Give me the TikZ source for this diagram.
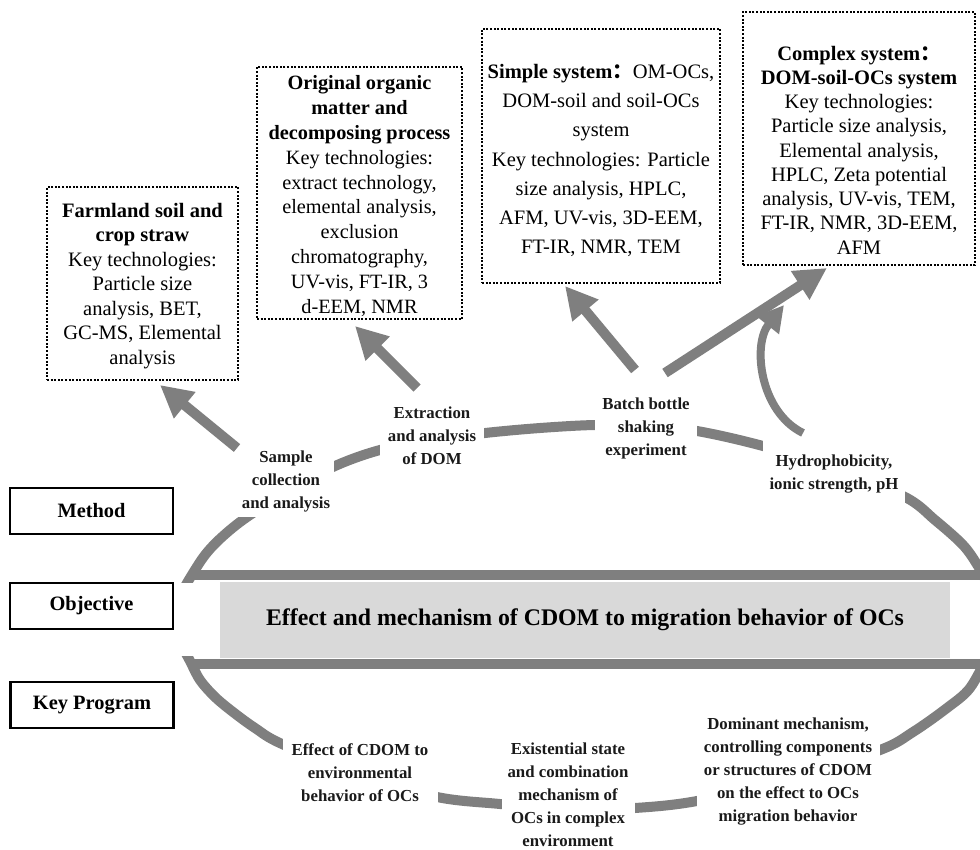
\documentclass[tikz,border=0pt]{standalone}
\usepackage{fontspec}
\setmainfont{Liberation Serif}
\newfontfamily\cjkfont{Noto Sans CJK SC}
\usetikzlibrary{arrows.meta,calc}
\definecolor{arcgray}{HTML}{7F7F7F}
\definecolor{rectgray}{HTML}{D9D9D9}
\definecolor{labtext}{HTML}{1A1A1A}
\begin{document}
\begin{tikzpicture}[x=1pt,y=-1pt,
  band/.style={draw=arcgray, line width=10pt},
  lab/.style={fill=white, align=center, font=\fontsize{16.8}{23}\selectfont\bfseries, text=labtext, inner sep=0pt},
  rowbox/.style={draw=black, line width=2.5pt, minimum width=163pt, minimum height=46pt, inner sep=0pt, font=\fontsize{20.4}{24}\selectfont\bfseries},
  dotbox/.style={draw=black, line width=2pt, dash pattern=on 2pt off 1.6pt, inner sep=0pt},
  boxtext/.style={align=center, inner sep=0pt},
  bigarrow/.style={draw=arcgray, line width=10pt, -{Triangle[length=32pt,width=32pt]}},
  curvarrow/.style={draw=arcgray, line width=8pt, -{Triangle[length=26pt,width=27pt]}}
]
\useasboundingbox (0,0) rectangle (980,849);

% upper band: arc clipped at its foot, plus bar
\begin{scope}
  \clip (0,0) rectangle (1000,582);
  \draw[band] plot[smooth, tension=0.55] coordinates {(181,594) (190,578) (205,555) (222,537) (247,517) (290,490) (335,466) (380,450) (432,440) (485,433) (540,428) (595,425) (646,426) (697,431) (763,446) (834,468) (905,497) (935,520) (963,545) (978,566) (988,585)};
\end{scope}
\draw[band] (192,575) -- (995,575);

% lower band: arc clipped at its head, plus bar
\begin{scope}
  \clip (0,656) rectangle (1000,860);
  \draw[band] plot[smooth, tension=0.55] coordinates {(182,646) (190,661) (200,680) (215,697) (233,712) (255,728) (282,744) (360,775) (437,797) (500,804) (568,810) (635,808) (697,801) (788,780) (880,750) (913,732) (947,708) (970,688) (988,655)};
\end{scope}
\draw[band] (192,664) -- (995,664);

% objective bar
\node[fill=rectgray, minimum width=730pt, minimum height=76pt, inner sep=0pt,
  font=\fontsize{23.8}{28}\selectfont\bfseries] (goal) at (585,620)
  {Effect and mechanism of CDOM to migration behavior of OCs};

% row labels
\node[rowbox] (method) at (91.5,511) {Method};
\node[rowbox] (objective) at (91.5,606) {Objective};
\node[rowbox] (keyprog) at (92,705) {Key Program};

% labels on bands
\node[lab, minimum width=96pt, minimum height=72pt] (sample) at (286,481) {Sample\\collection\\and analysis};
\node[lab, minimum width=104pt, minimum height=70pt] (extract) at (432,436) {Extraction\\and analysis\\of DOM};
\node[lab, minimum width=102pt, minimum height=70pt] (batch) at (646,428) {Batch bottle\\shaking\\experiment};
\node[lab, minimum width=142pt, minimum height=76pt] (hydro) at (834,474) {Hydrophobicity,\\ionic strength, pH};
\node[lab, minimum width=155pt, minimum height=76pt] (effect) at (360,773) {Effect of CDOM to\\environmental\\behavior of OCs};
\node[lab, minimum width=133pt, minimum height=118pt] (exist) at (568,795) {Existential state\\and combination\\mechanism of\\OCs in complex\\environment};
\node[lab, minimum width=183pt, minimum height=120pt] (domin) at (788,772) {Dominant mechanism,\\controlling components\\or structures of CDOM\\on the effect to OCs\\migration behavior};

% dotted boxes
\node[dotbox, minimum width=191pt, minimum height=193pt] (b1) at (142.5,283.5) {};
\node[boxtext, font=\fontsize{20.5}{24.5}\selectfont] (b1t) at (142.5,286) {{\bfseries Farmland soil and}\\{\bfseries crop straw}\\Key technologies:\\Particle size\\analysis, BET,\\GC-MS, Elemental\\analysis};

\node[dotbox, minimum width=205pt, minimum height=252pt] (b2) at (359.5,193) {};
\node[boxtext, font=\fontsize{20.3}{24.9}\selectfont] (b2t) at (359.5,196) {{\bfseries Original organic}\\{\bfseries matter and}\\{\bfseries decomposing process}\\Key technologies:\\extract technology,\\elemental analysis,\\exclusion\\chromatography,\\UV-vis, FT-IR, 3\\d-EEM, NMR};

\node[dotbox, minimum width=238pt, minimum height=254pt] (b3) at (601,156) {};
\node[boxtext, font=\fontsize{20.5}{29.2}\selectfont] (b3t) at (601,160.5) {{\bfseries Simple system{\cjkfont ：}}OM-OCs,\\DOM-soil and soil-OCs\\system\\Key technologies: Particle\\size analysis, HPLC,\\AFM, UV-vis, 3D-EEM,\\FT-IR, NMR, TEM};

\node[dotbox, minimum width=232pt, minimum height=253pt] (b4) at (859,138.5) {};
\node[boxtext, font=\fontsize{20.5}{24.25}\selectfont] (b4t) at (859,150) {{\bfseries Complex system{\cjkfont ：}}\\{\bfseries DOM-soil-OCs system}\\Key technologies:\\Particle size analysis,\\Elemental analysis,\\HPLC, Zeta potential\\analysis, UV-vis, TEM,\\FT-IR, NMR, 3D-EEM,\\AFM};

% arrows
\coordinate (a1s) at (237,448); \coordinate (a1e) at (160,385);
\coordinate (a2s) at (417,388); \coordinate (a2e) at (355,326);
\coordinate (a3s) at (635,370); \coordinate (a3e) at (565,286);
\coordinate (a4s) at (665,373); \coordinate (a4e) at (827,268);
\coordinate (a5s) at (803,433); \coordinate (a5e) at (784,305);
\draw[bigarrow] (a1s) -- (a1e);
\draw[bigarrow] (a2s) -- (a2e);
\draw[bigarrow] (a3s) -- (a3e);
\draw[bigarrow] (a4s) -- (a4e);
\draw[curvarrow] (a5s) .. controls (760,412) and (752,345) .. (a5e);
\end{tikzpicture}
\end{document}
